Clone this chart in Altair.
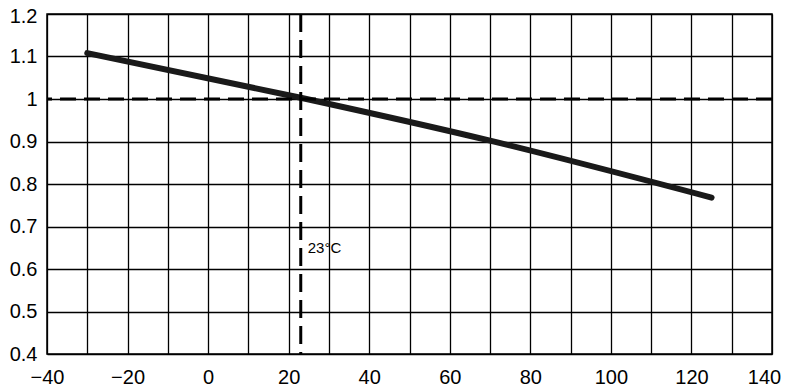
import altair as alt
import pandas as pd

# data
temps = [-30, 23, 70, 125]
factors = [1.108, 1.003, 0.902, 0.768]
ref_temp = [23]
ref_factor = [1.0]
ref_label = ["23°C"]
label_y = [0.65]
x_grid = list(range(-40, 141, 10))
y_grid = [round(0.4 + 0.1 * i, 1) for i in range(9)]

FONT = "Liberation Sans"

line_df = pd.DataFrame({"t": temps, "f": factors})
vref_df = pd.DataFrame({"t": ref_temp})
href_df = pd.DataFrame({"f": ref_factor})
lab_df = pd.DataFrame({"t": ref_temp, "f": label_y, "txt": ref_label})

xscale = alt.Scale(domain=[-40, 140], nice=False, zero=False)
yscale = alt.Scale(domain=[0.4, 1.2], nice=False, zero=False)

xaxis = alt.Axis(
    values=x_grid,
    labelExpr="datum.value % 20 == 0 ? datum.label : ''",
    title=None, grid=True, gridColor="black", gridWidth=1.3, gridOpacity=1,
    domain=False, ticks=False, labelFont=FONT, labelFontSize=20,
    labelColor="black", labelPadding=13, labelFlush=False, labelOverlap=False,
    labelOffset={"condition": {"test": "datum.value == 140", "value": -8}, "value": 0},
)
yaxis = alt.Axis(
    values=y_grid,
    labelExpr="datum.value == 1 ? '1' : format(datum.value, '.1f')",
    title=None, grid=True, gridColor="black", gridWidth=1.3, gridOpacity=1,
    domain=False, ticks=False, labelFont=FONT, labelFontSize=20,
    labelColor="black", labelPadding=10, labelFlush=False, labelOverlap=False,
    labelOffset={"condition": {"test": "datum.value >= 1.19", "value": 2}, "value": 0},
)

base_line = alt.Chart(line_df).mark_line(
    color="#1a1a1a", strokeWidth=6, strokeCap="round", strokeJoin="round",
    interpolate="monotone",
).encode(
    x=alt.X("t:Q", scale=xscale, axis=xaxis),
    y=alt.Y("f:Q", scale=yscale, axis=yaxis),
)

vrule = alt.Chart(vref_df).mark_rule(
    color="black", strokeWidth=3, strokeDash=[18, 8]
).encode(x=alt.X("t:Q", scale=xscale))

hrule = alt.Chart(href_df).mark_rule(
    color="black", strokeWidth=3, strokeDash=[16, 8]
).encode(y=alt.Y("f:Q", scale=yscale))

label = alt.Chart(lab_df).mark_text(
    align="left", baseline="middle", dx=7, font=FONT, fontSize=15, color="black"
).encode(
    x=alt.X("t:Q", scale=xscale),
    y=alt.Y("f:Q", scale=yscale),
    text="txt:N",
)

chart = alt.layer(base_line, vrule, hrule, label).properties(
    width=725, height=340,
    padding={"left": 39, "top": 6, "right": 10, "bottom": 34},
    autosize="none",
).configure_view(stroke="black", strokeWidth=1.5)

chart.save("out.html", embed_options={"renderer": "svg", "actions": False})
